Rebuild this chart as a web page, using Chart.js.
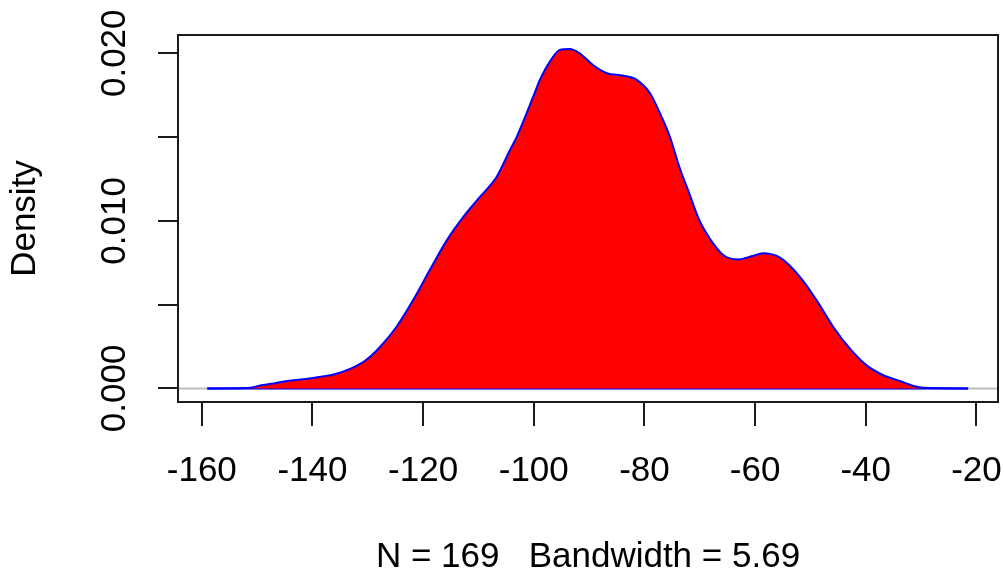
<!DOCTYPE html>
<html>
<head>
<meta charset="utf-8">
<script src="https://cdn.jsdelivr.net/npm/chart.js@4"></script>
<style>
  html, body { margin: 0; padding: 0; background: #fff; }
  #wrap { width: 1004px; height: 575px; position: relative; }
</style>
</head>
<body>
<div id="wrap"><canvas id="chart"></canvas></div>
<script>
// density estimate
const densityX = [
  -159.0, -152.0, -149.0, -147.0, -144.5, -141.5, -138.5, -136.0, -133.0, -130.5,
  -128.0, -124.8, -121.8, -118.8, -115.7, -112.7, -109.7, -106.7, -104.3, -103.1,
  -100.1, -98.9, -97.1, -95.3, -93.5, -91.7, -89.3, -86.8, -83.8, -81.4,
  -79.0, -77.2, -75.4, -73.7, -71.9, -70.1, -67.6, -65.5, -63.0, -60.5,
  -58.6, -55.5, -51.9, -48.9, -45.9, -42.9, -39.9, -36.9, -33.9, -30.8,
  -28.4, -21.5
];
const densityY = [
  0.00000, 0.00002, 0.00020, 0.00030, 0.00045, 0.00055, 0.00070, 0.00085, 0.00120, 0.00165,
  0.00240, 0.00368, 0.00527, 0.00706, 0.00885, 0.01025, 0.01144, 0.01263, 0.01423, 0.01500,
  0.01741, 0.01841, 0.01950, 0.02020, 0.02026, 0.02000, 0.01930, 0.01881, 0.01866, 0.01841,
  0.01761, 0.01642, 0.01502, 0.01323, 0.01164, 0.01005, 0.00866, 0.00790, 0.00770, 0.00790,
  0.00806, 0.00780, 0.00666, 0.00527, 0.00368, 0.00239, 0.00139, 0.00080, 0.00045, 0.00010,
  0.00002, 0.00000
];

const xMin = -164.3, xMax = -16.1;
const yMin = -0.00081, yMax = 0.02109;
const yLabelValues = [0, 0.01, 0.02];
const xTitle = "N = 169   Bandwidth = 5.69";
const yTitle = "Density";

const FONT = "'Liberation Sans', Arial, sans-serif";
const INK = "#1a1a1a";

const points = densityX.map((x, i) => ({ x: x, y: densityY[i] }));
const baseLine = [
  { x: densityX[0], y: 0 },
  { x: densityX[densityX.length - 1], y: 0 }
];

// zero line, box and rotated y labels like base R graphics
const rPlot = {
  id: "rPlot",
  beforeDatasetsDraw(chart) {
    const { ctx, chartArea, scales } = chart;
    const y0 = scales.y.getPixelForValue(0);
    ctx.save();
    ctx.strokeStyle = "#bebebe";
    ctx.lineWidth = 2;
    ctx.beginPath();
    ctx.moveTo(chartArea.left, y0);
    ctx.lineTo(chartArea.right, y0);
    ctx.stroke();
    ctx.restore();
  },
  afterDraw(chart) {
    const { ctx, chartArea, scales } = chart;
    ctx.save();
    ctx.strokeStyle = INK;
    ctx.lineWidth = 2;
    ctx.strokeRect(chartArea.left, chartArea.top,
      chartArea.right - chartArea.left, chartArea.bottom - chartArea.top);

    ctx.fillStyle = "#000";
    ctx.font = "35px " + FONT;
    ctx.textAlign = "center";
    ctx.textBaseline = "alphabetic";
    yLabelValues.forEach(v => {
      const py = scales.y.getPixelForValue(v);
      ctx.save();
      ctx.translate(125, py);
      ctx.rotate(-Math.PI / 2);
      ctx.fillText(v.toFixed(3), 0, 0);
      ctx.restore();
    });
    ctx.restore();
  }
};

new Chart(document.getElementById("chart"), {
  type: "line",
  data: {
    datasets: [
      {
        data: points,
        borderColor: "#0000ff",
        borderWidth: 2,
        backgroundColor: "#ff0000",
        fill: "origin",
        pointRadius: 0,
        cubicInterpolationMode: "monotone"
      },
      {
        data: baseLine,
        borderColor: "#0000ff",
        borderWidth: 2,
        fill: false,
        pointRadius: 0
      }
    ]
  },
  options: {
    responsive: true,
    maintainAspectRatio: false,
    animation: false,
    layout: { padding: { top: 35, right: 6, bottom: 0, left: 0 } },
    plugins: {
      legend: { display: false },
      tooltip: { enabled: false }
    },
    scales: {
      x: {
        type: "linear",
        min: xMin,
        max: xMax,
        afterFit: s => { s.height = 173; s.paddingLeft = 0; s.paddingRight = 0; },
        border: { display: false },
        grid: { drawOnChartArea: false, drawTicks: true, tickLength: 24, color: INK, lineWidth: 2 },
        ticks: {
          stepSize: 20,
          includeBounds: false,
          autoSkip: false,
          maxRotation: 0,
          padding: 27.7,
          color: "#000",
          font: { family: FONT, size: 35, lineHeight: 1.0 }
        },
        title: {
          display: true,
          text: xTitle,
          color: "#000",
          font: { family: FONT, size: 35, lineHeight: 1.0 },
          padding: { top: 21.6, bottom: 0 }
        }
      },
      y: {
        type: "linear",
        min: yMin,
        max: yMax,
        afterFit: s => { s.width = 178; s.paddingTop = 0; s.paddingBottom = 0; },
        border: { display: false },
        grid: { drawOnChartArea: false, drawTicks: true, tickLength: 20, color: INK, lineWidth: 2 },
        ticks: {
          stepSize: 0.005,
          includeBounds: false,
          display: false
        },
        title: {
          display: true,
          text: yTitle,
          color: "#000",
          font: { family: FONT, size: 35, lineHeight: 1.0 },
          padding: { top: 7.7, bottom: 0 }
        }
      }
    }
  },
  plugins: [rPlot]
});
</script>
</body>
</html>
